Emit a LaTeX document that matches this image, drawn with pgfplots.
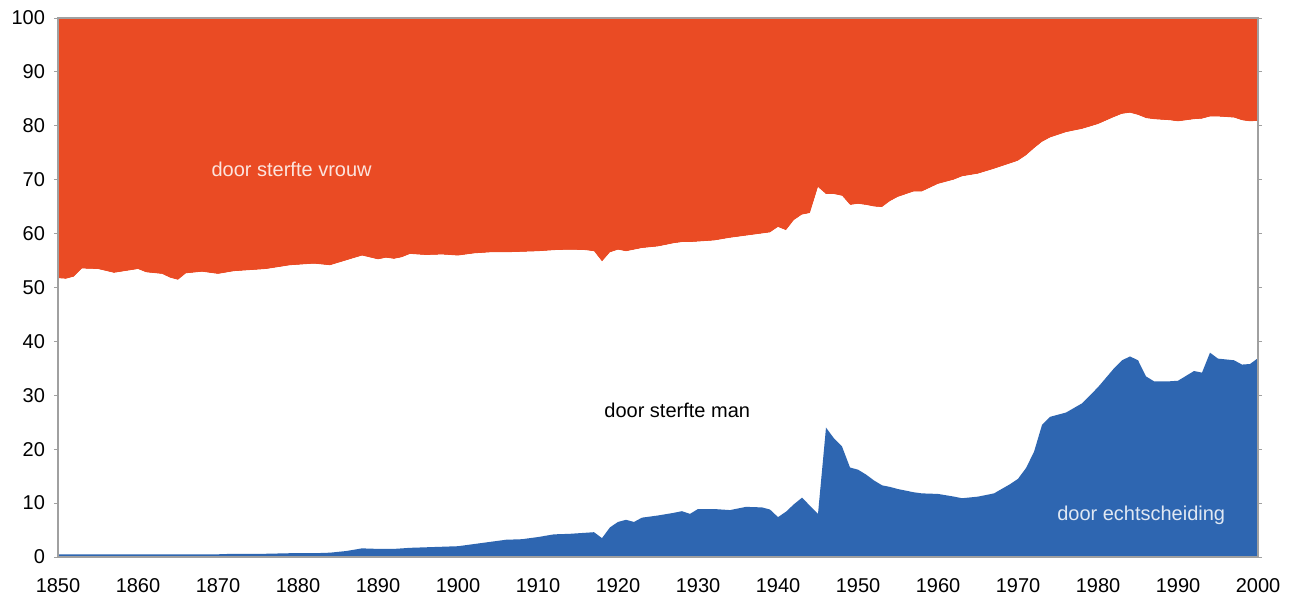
\documentclass[border=0pt]{standalone}
\usepackage{pgfplots}
\usepackage{pgfplotstable}
\usepackage{fontspec}
\setmainfont{Liberation Sans}
\pgfplotsset{compat=1.18}
\definecolor{cred}{HTML}{EA4B24}
\definecolor{cblue}{HTML}{2E66B1}
\definecolor{cgrey}{HTML}{A0A0A0}
\pgfplotstableread{
year echt bound
1850 0.5 51.7
1851 0.5 51.6
1852 0.5 52.0
1853 0.5 53.5
1855 0.5 53.4
1857 0.5 52.7
1860 0.5 53.4
1861 0.5 52.8
1863 0.5 52.5
1864 0.5 51.8
1865 0.5 51.4
1866 0.5 52.6
1868 0.5 52.9
1870 0.5 52.5
1872 0.6 53.0
1876 0.6 53.4
1879 0.7 54.1
1882 0.7 54.4
1884 0.8 54.1
1886 1.1 55.0
1888 1.6 55.9
1890 1.5 55.2
1891 1.5 55.5
1892 1.5 55.3
1893 1.6 55.6
1894 1.7 56.2
1896 1.8 56.0
1898 1.9 56.1
1900 2.0 55.9
1902 2.4 56.3
1904 2.8 56.5
1906 3.2 56.5
1908 3.3 56.6
1910 3.7 56.7
1912 4.2 56.9
1914 4.3 57.0
1916 4.5 56.9
1917 4.6 56.7
1918 3.5 54.8
1919 5.5 56.5
1920 6.5 57.0
1921 6.9 56.7
1922 6.5 57.0
1923 7.3 57.3
1925 7.7 57.6
1927 8.2 58.2
1928 8.5 58.4
1929 8.0 58.4
1930 8.9 58.5
1932 8.9 58.7
1934 8.7 59.2
1936 9.3 59.6
1938 9.2 60.0
1939 8.8 60.2
1940 7.4 61.2
1941 8.4 60.6
1942 9.8 62.5
1943 11.0 63.5
1944 9.5 63.8
1945 8.0 68.6
1946 24.0 67.3
1947 22.0 67.3
1948 20.5 67.0
1949 16.6 65.3
1950 16.2 65.5
1951 15.3 65.3
1952 14.2 65.0
1953 13.3 64.9
1954 13.0 66.0
1955 12.6 66.8
1957 12.0 67.8
1958 11.8 67.8
1960 11.7 69.2
1962 11.2 70.0
1963 10.9 70.6
1965 11.2 71.1
1967 11.8 72.0
1969 13.5 73.0
1970 14.5 73.5
1971 16.5 74.5
1972 19.5 75.8
1973 24.5 77.0
1974 26.0 77.8
1976 26.8 78.8
1978 28.5 79.4
1980 31.5 80.3
1982 35.0 81.6
1983 36.5 82.2
1984 37.2 82.4
1985 36.5 82.0
1986 33.5 81.4
1987 32.6 81.2
1989 32.6 81.0
1990 32.7 80.8
1991 33.6 81.0
1992 34.5 81.2
1993 34.2 81.3
1994 37.9 81.7
1995 36.8 81.7
1997 36.5 81.5
1998 35.7 81.0
1999 35.8 80.8
2000 36.9 80.9
}\datatable
\begin{document}
\begin{tikzpicture}
\useasboundingbox (-29pt,-23pt) rectangle (616pt,278.5pt);
\begin{axis}[
  scale only axis,
  width=600pt, height=269.5pt,
  xmin=1850, xmax=2000, ymin=0, ymax=100,
  xtick={1850,1860,...,2000},
  ytick={0,10,...,100},
  stack plots=y,
  axis on top,
  axis line style={cgrey, line width=0.6pt},
  tick align=outside,
  major tick length=2pt,
  xtick style={draw=none},
  ytick style={cgrey, line width=0.4pt},
  tick label style={font=\fontsize{10}{12}\selectfont, text=black},
  /pgf/number format/assume math mode=true,
  /pgf/number format/1000 sep={},
  xticklabel style={yshift=-5pt},
  yticklabel style={xshift=-1pt},
]
\addplot[fill=cblue, draw=none] table[x=year, y=echt] {\datatable} \closedcycle;
\addplot[fill=white, draw=none] table[x=year, y expr=\thisrow{bound}-\thisrow{echt}] {\datatable} \closedcycle;
\addplot[fill=cred, draw=none] table[x=year, y expr=100-\thisrow{bound}] {\datatable} \closedcycle;
\coordinate (lv) at (axis cs:1879.2,72);
\coordinate (lm) at (axis cs:1927.4,27.2);
\coordinate (le) at (axis cs:1985.4,7.8);
\end{axis}
\node[font=\fontsize{10}{12}\selectfont, text=white!85!cred] at (lv) {door sterfte vrouw};
\node[font=\fontsize{10}{12}\selectfont, text=black] at (lm) {door sterfte man};
\node[font=\fontsize{10}{12}\selectfont, text=white!85!cblue] at (le) {door echtscheiding};
\end{tikzpicture}
\end{document}
